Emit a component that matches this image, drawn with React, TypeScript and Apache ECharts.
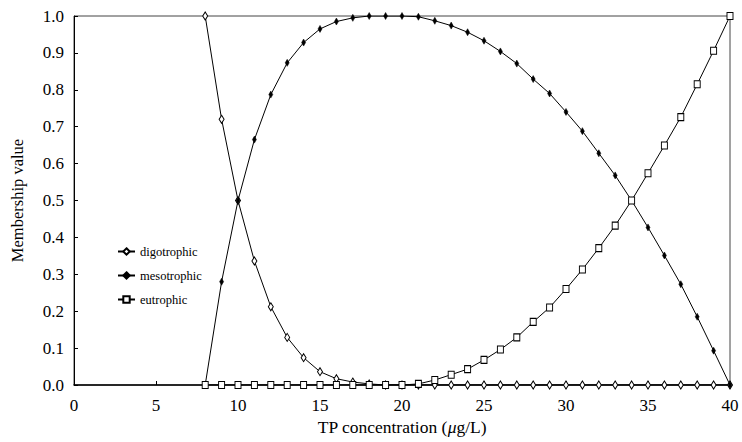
import React, { useEffect, useRef } from "react";
import * as echarts from "echarts";

const xValues = [8, 9, 10, 11, 12, 13, 14, 15, 16, 17, 18, 19, 20, 21, 22, 23, 24, 25, 26, 27, 28, 29, 30, 31, 32, 33, 34, 35, 36, 37, 38, 39, 40];
const digotrophic = [1, 0.72, 0.5, 0.336, 0.212, 0.129, 0.074, 0.036, 0.017, 0.008, 0.003, 0, 0, 0, 0, 0, 0, 0, 0, 0, 0, 0, 0, 0, 0, 0, 0, 0, 0, 0, 0, 0, 0];
const mesotrophic = [0, 0.28, 0.5, 0.665, 0.787, 0.873, 0.928, 0.965, 0.985, 0.995, 1, 1, 1, 0.998, 0.987, 0.974, 0.956, 0.933, 0.904, 0.871, 0.829, 0.79, 0.74, 0.688, 0.628, 0.568, 0.5, 0.427, 0.351, 0.273, 0.185, 0.093, 0];
const eutrophic = [0, 0, 0, 0, 0, 0, 0, 0, 0, 0, 0, 0, 0, 0.003, 0.0135, 0.028, 0.043, 0.068, 0.096, 0.129, 0.171, 0.21, 0.26, 0.313, 0.371, 0.432, 0.5, 0.574, 0.649, 0.726, 0.815, 0.906, 1];
const seriesNames = ["digotrophic", "mesotrophic", "eutrophic"];

const FONT = "Liberation Serif";

export default function App() {
  const ref = useRef<HTMLDivElement>(null);
  useEffect(() => {
    document.body.style.margin = "0";
    if (!ref.current) return;
    const chart = echarts.init(ref.current, undefined, { renderer: "svg" });
    const pair = (ys: number[]) => xValues.map((x, i) => [x, ys[i]]);
    const baseLine = { color: "#000", width: 1 };
    chart.setOption({
      animation: false,
      backgroundColor: "#fff",
      textStyle: { fontFamily: FONT },
      grid: {
        left: 74,
        right: 12,
        top: 16,
        bottom: 57,
        show: true,
        borderColor: "#444",
        borderWidth: 1,
        backgroundColor: "transparent",
      },
      legend: {
        orient: "vertical",
        left: 112,
        top: 240,
        itemGap: 11,
        itemWidth: 17,
        itemHeight: 8,
        data: seriesNames,
        textStyle: { fontFamily: FONT, fontSize: 12.5, color: "#000" },
      },
      xAxis: {
        type: "value",
        min: 0,
        max: 40,
        interval: 5,
        name: "TP concentration ({i|μ}g/L)",
        nameLocation: "middle",
        nameGap: 33,
        nameMoveOverlap: false,
        nameTextStyle: {
          fontFamily: FONT,
          fontSize: 17.5,
          color: "#000",
          rich: { i: { fontFamily: FONT, fontSize: 17.5, fontStyle: "italic", color: "#000" } },
        },
        axisLine: { lineStyle: { color: "#000", width: 1.5 } },
        axisTick: { inside: true, length: 4, lineStyle: { color: "#000" } },
        axisLabel: { fontFamily: FONT, fontSize: 17, color: "#000", margin: 12 },
        splitLine: { show: false },
      },
      yAxis: {
        type: "value",
        min: 0,
        max: 1,
        interval: 0.1,
        name: "Membership value",
        nameLocation: "middle",
        nameGap: 48,
        nameMoveOverlap: false,
        nameTextStyle: { fontFamily: FONT, fontSize: 16.5, color: "#000" },
        axisLine: { show: true, lineStyle: { color: "#000", width: 1 } },
        axisTick: { show: true, inside: true, length: 4, lineStyle: { color: "#000" } },
        axisLabel: {
          fontFamily: FONT,
          fontSize: 17,
          color: "#000",
          margin: 10,
          formatter: (v: number) => v.toFixed(1),
        },
        splitLine: { show: false },
      },
      series: [
        {
          name: seriesNames[0],
          type: "line",
          data: pair(digotrophic),
          symbol: "diamond",
          symbolSize: [5, 8],
          lineStyle: baseLine,
          itemStyle: { color: "#fff", borderColor: "#000", borderWidth: 1 },
          z: 3,
        },
        {
          name: seriesNames[1],
          type: "line",
          data: pair(mesotrophic),
          symbol: "diamond",
          symbolSize: [4, 7],
          lineStyle: baseLine,
          itemStyle: { color: "#000", borderColor: "#000", borderWidth: 0.5 },
          z: 4,
        },
        {
          name: seriesNames[2],
          type: "line",
          data: pair(eutrophic),
          symbol: "rect",
          symbolSize: [6, 7],
          lineStyle: baseLine,
          itemStyle: { color: "#fff", borderColor: "#000", borderWidth: 1 },
          z: 5,
        },
      ],
    });
    return () => chart.dispose();
  }, []);
  return <div ref={ref} style={{ width: 742, height: 442 }} />;
}
